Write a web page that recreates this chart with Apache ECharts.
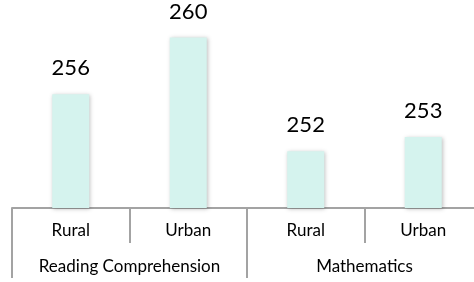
<!DOCTYPE html>
<html>
<head>
<meta charset="utf-8">
<script src="https://cdn.jsdelivr.net/npm/echarts@6/dist/echarts.min.js"></script>
<style>
    html, body { margin: 0; padding: 0; background: #fff; overflow: hidden; }
    /* the plot runs past the right edge in the reference, so the canvas is a bit wider than the window */
    #chart { width: 483px; height: 282px; }
</style>
</head>
<body>
<div id="chart"></div>
<script>
// Data
const groups = ['Reading Comprehension', 'Mathematics'];
const areas = ['Rural', 'Urban', 'Rural', 'Urban'];
const scores = [256, 260, 252, 253];

const FONT = 'Lato, "Open Sans", sans-serif';
const AXIS_GREY = '#a3a3a3';

const chart = echarts.init(document.getElementById('chart'), null, { renderer: 'canvas' });

const option = {
    backgroundColor: '#fff',
    animation: false,
    grid: {
        left: 12,
        right: 1,
        top: 9,
        bottom: 74
    },
    xAxis: [
        {
            type: 'category',
            data: areas,
            position: 'bottom',
            axisLine: { lineStyle: { color: AXIS_GREY, width: 2 } },
            axisTick: { show: true, interval: 0, length: 35, lineStyle: { color: AXIS_GREY, width: 2 } },
            axisLabel: {
                interval: 0,
                margin: 23,
                verticalAlign: 'middle',
                color: '#000',
                fontFamily: FONT,
                fontSize: 17
            }
        },
        {
            type: 'category',
            data: groups,
            position: 'bottom',
            axisLine: { show: false },
            axisTick: { show: true, interval: 0, length: 70, lineStyle: { color: AXIS_GREY, width: 2 } },
            axisLabel: {
                interval: 0,
                margin: 59,
                verticalAlign: 'middle',
                color: '#000',
                fontFamily: FONT,
                fontSize: 17
            }
        }
    ],
    yAxis: {
        type: 'value',
        min: 248,
        max: 262,
        show: false,
        splitLine: { show: false }
    },
    series: [{
        type: 'bar',
        xAxisIndex: 0,
        data: scores,
        barWidth: 37,
        itemStyle: {
            color: '#d5f3ee',
            shadowColor: 'rgba(0,0,0,0.25)',
            shadowBlur: 4,
            shadowOffsetX: 1,
            shadowOffsetY: 1
        },
        label: {
            show: true,
            position: 'top',
            distance: 15,
            color: '#000',
            fontFamily: FONT,
            fontSize: 22
        }
    }]
};

chart.setOption(option);
window.addEventListener('resize', () => chart?.resize());
</script>
</body>
</html>
